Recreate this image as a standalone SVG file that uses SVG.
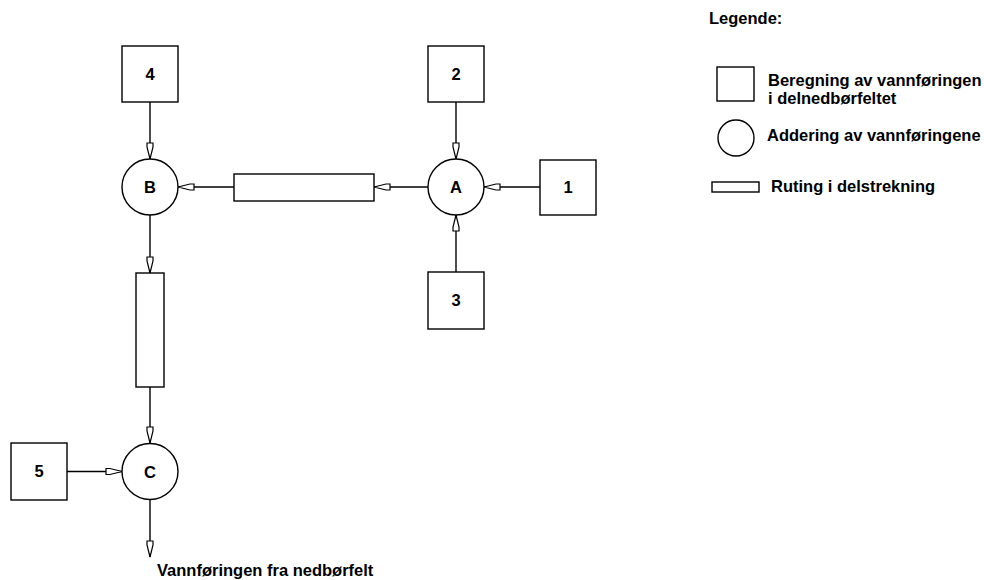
<svg xmlns="http://www.w3.org/2000/svg" width="984" height="580" viewBox="0 0 984 580">
<defs>
<style>
.n{fill:#fff;stroke:#000;stroke-width:1.4}
.c{stroke:#000;stroke-width:1.4;fill:none;marker-end:url(#ah)}
.t{font-family:"Liberation Sans",Arial,sans-serif;font-weight:bold;font-size:16.5px;fill:#000}
.m{text-anchor:middle}
</style>
<marker id="ah" markerUnits="userSpaceOnUse" markerWidth="20" markerHeight="10" refX="17" refY="4" orient="auto" viewBox="0 0 20 8">
<path d="M17,4 L5,1 L1,1 L1,7 L5,7 Z" fill="#fff" stroke="#000" stroke-width="1.2"/>
</marker>
</defs>
<rect width="984" height="580" fill="#fff"/>
<g id="connectors">
<line class="c" x1="150" y1="102" x2="150" y2="159"/>
<line class="c" x1="456" y1="102" x2="456" y2="159"/>
<line class="c" x1="540" y1="187" x2="484" y2="187"/>
<line class="c" x1="456" y1="272" x2="456" y2="215"/>
<line class="c" x1="428" y1="187" x2="374" y2="187"/>
<line class="c" x1="234" y1="187" x2="178" y2="187"/>
<line class="c" x1="150" y1="215" x2="150" y2="273"/>
<line class="c" x1="150" y1="387" x2="150" y2="443"/>
<line class="c" x1="67" y1="471.5" x2="122" y2="471.5"/>
<line class="c" x1="150" y1="499.5" x2="150" y2="557"/>
</g>
<g id="n4"><rect class="n" x="122" y="46" width="56" height="56"/><text class="t m" x="150" y="80">4</text></g>
<g id="n2"><rect class="n" x="428" y="46" width="56" height="56"/><text class="t m" x="456" y="80">2</text></g>
<g id="n1"><rect class="n" x="540" y="160" width="56" height="55"/><text class="t m" x="568" y="193">1</text></g>
<g id="n3"><rect class="n" x="428" y="272" width="56" height="57"/><text class="t m" x="456" y="306">3</text></g>
<g id="n5"><rect class="n" x="11" y="443" width="56" height="57"/><text class="t m" x="39" y="477">5</text></g>
<g id="nA"><circle class="n" cx="456" cy="187" r="28"/><text class="t m" x="456" y="193">A</text></g>
<g id="nB"><circle class="n" cx="150" cy="187" r="28"/><text class="t m" x="150" y="193">B</text></g>
<g id="nC"><circle class="n" cx="150" cy="471.5" r="28"/><text class="t m" x="150" y="478">C</text></g>
<g id="r1"><rect class="n" x="234" y="174" width="140" height="27"/></g>
<g id="r2"><rect class="n" x="136" y="273" width="28" height="114"/></g>
<g id="out"><text class="t" x="157" y="576">Vannføringen fra nedbørfelt</text></g>
<g id="legend">
<text class="t" x="709" y="24">Legende:</text>
<rect class="n" x="717" y="67" width="37" height="34"/>
<text class="t" x="768" y="86">Beregning av vannføringen</text>
<text class="t" x="768" y="104">i delnedbørfeltet</text>
<circle class="n" cx="736" cy="138" r="18"/>
<text class="t" x="767" y="141">Addering av vannføringene</text>
<rect class="n" x="712" y="182" width="47" height="10"/>
<text class="t" x="771" y="192">Ruting i delstrekning</text>
</g>
</svg>
